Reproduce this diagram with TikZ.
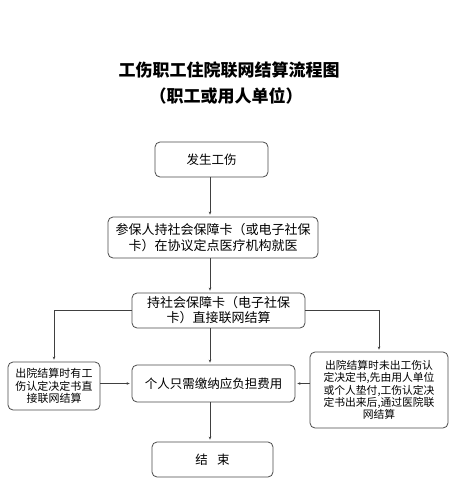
\documentclass[tikz,border=0pt]{standalone}
\usepackage{fontspec}
\setmainfont{Noto Sans CJK SC}
\usetikzlibrary{arrows.meta}
\def\flowx{210}
\definecolor{boxgray}{RGB}{75,75,75}
\newcommand{\fsz}[2]{\fontsize{#1}{#2}\selectfont}

\begin{document}
\begin{tikzpicture}[x=1pt,y=-1pt,line width=0.8pt,
  box/.style={draw=boxgray,rounded corners=5pt,align=center,inner sep=0pt},
  arr/.style={-{Stealth[length=3pt,width=2.6pt]},shorten >=2pt,line width=0.7pt,black!75}]
  \useasboundingbox[fill=white] (0,0) rectangle (454,503);
  % title
  \node[font=\bfseries\fsz{17}{20}] (title) at (229,70) {工伤职工住院联网结算流程图};
  \node[font=\bfseries\fsz{17}{20}] (subtitle) at (226,96) {（职工或用人单位）};
  % boxes
  \node[box,minimum width=113pt,minimum height=35pt,font=\fsz{12.5}{15}] (start) at (211.5,159.5) {发生工伤};
  \node[box,minimum width=210pt,minimum height=41pt,font=\fsz{13}{16}] (visit) at (213,237.5)
    {参保人持社会保障卡（或电子社保\\卡）在协议定点医疗机构就医};
  \node[box,minimum width=173pt,minimum height=35pt,font=\fsz{13}{15}] (settle) at (218.5,310.5)
    {持社会保障卡（电子社保\\卡）直接联网结算};
  \node[box,minimum width=92pt,minimum height=48pt,font=\fsz{11}{12.5}] (leftcase) at (54,386)
    {出院结算时有工\\伤认定决定书直\\接联网结算};
  \node[box,minimum width=163pt,minimum height=37pt,font=\fsz{12.5}{15}] (pay) at (213.5,383.5)
    {个人只需缴纳应负担费用};
  \node[box,minimum width=138pt,minimum height=76pt,font=\fsz{10.8}{12.3}] (rightcase) at (379,390)
    {出院结算时未出工伤认\\定决定书,先由用人单位\\或个人垫付,工伤认定决\\定书出来后,通过医院联\\网结算};
  \node[box,minimum width=121pt,minimum height=35pt,font=\fsz{12.5}{15}] (finish) at (212.5,459.5)
    {结\hspace{0.75em}束};
  % connectors
  \coordinate (axis) at (\flowx,0);
  \draw[arr] (start.south -| axis) -- (visit.north -| axis);
  \draw[arr] (visit.south -| axis) -- (settle.north -| axis);
  \draw[arr] (settle.south -| axis) -- (pay.north -| axis);
  \draw[arr] (pay.south -| axis) -- (finish.north -| axis);
  \draw[arr] (settle.west) -| (leftcase.north);
  \draw[arr] (settle.east) -| (rightcase.north);
  \draw[arr] (leftcase.east |- pay) -- (pay.west);
  \draw[arr] (rightcase.west |- pay) -- (pay.east);
\end{tikzpicture}
\end{document}
